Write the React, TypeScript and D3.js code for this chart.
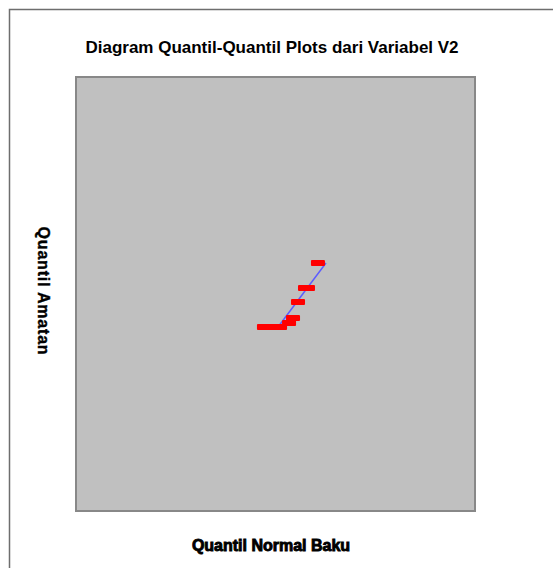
import * as d3 from 'd3';

import React, { useEffect, useRef } from 'react';

const normalQuantiles: number[] = [-1.81, -1.53, -1.25, -0.96, -0.68, -0.05, 0.23, 0.58, 1.07, 1.28, 1.98];
const observedQuantiles: number[] = [-2.28, -2.28, -2.28, -2.28, -2.28, -2.0, -1.66, -0.55, 0.41, 0.41, 2.14];

// reference line end points
const lineX: number[] = [-0.82, 2.54];
const lineY: number[] = [-2.28, 2.14];

const xDomain: number[] = [-15, 13];
const yDomain: number[] = [-15, 15];

const title = 'Diagram Quantil-Quantil Plots dari Variabel V2';
const xLabel = 'Quantil Normal Baku';
const yLabel = 'Quantil Amatan';

const width = 553;
const height = 568;
const margin = { top: 77, right: 78, bottom: 57, left: 76 };

export default function App() {
  const svgRef = useRef(null);

  useEffect(() => {
    const svg = d3.select(svgRef.current).attr('width', width).attr('height', height);
    svg.selectAll('*').remove();

    const xScale = d3
      .scaleLinear()
      .domain(xDomain)
      .range([margin.left, width - margin.right]);

    const yScale = d3
      .scaleLinear()
      .domain(yDomain)
      .range([height - margin.bottom, margin.top]);

    svg.append('rect').attr('width', width).attr('height', height).attr('fill', '#ffffff');

    // outer frame
    svg
      .append('rect')
      .attr('x', 9.5)
      .attr('y', 9.5)
      .attr('width', 700)
      .attr('height', 700)
      .attr('fill', 'none')
      .attr('stroke', '#6e6e6e')
      .attr('stroke-width', 1.5);

    // plot area
    svg
      .append('rect')
      .attr('x', margin.left)
      .attr('y', margin.top)
      .attr('width', width - margin.left - margin.right)
      .attr('height', height - margin.top - margin.bottom)
      .attr('fill', '#c0c0c0')
      .attr('stroke', '#888888')
      .attr('stroke-width', 2);

    const data = normalQuantiles.map((q, i) => ({ x: q, y: observedQuantiles[i] }));

    const line = d3
      .line<number>()
      .x((d) => xScale(d))
      .y((_, i) => yScale(lineY[i]));

    svg
      .append('path')
      .attr('d', line(lineX))
      .attr('fill', 'none')
      .attr('stroke', '#5c5cff')
      .attr('stroke-width', 1.5);

    svg
      .append('g')
      .selectAll('rect')
      .data(data)
      .join('rect')
      .attr('x', (d) => xScale(d.x) - 7)
      .attr('y', (d) => yScale(d.y) - 3)
      .attr('width', 14)
      .attr('height', 6)
      .attr('rx', 1)
      .attr('fill', '#ff0000');

    svg
      .append('text')
      .attr('x', 272)
      .attr('y', 53)
      .attr('text-anchor', 'middle')
      .attr('font-family', 'Liberation Sans, Arial, sans-serif')
      .attr('font-weight', 'bold')
      .attr('font-size', 17)
      .attr('fill', '#000')
      .text(title);

    svg
      .append('text')
      .attr('x', 271)
      .attr('y', 551)
      .attr('text-anchor', 'middle')
      .attr('font-family', 'Liberation Sans, Arial, sans-serif')
      .attr('font-weight', 'bold')
      .attr('font-size', 16)
      .attr('stroke', '#000')
      .attr('stroke-width', 0.9)
      .attr('fill', '#000')
      .text(xLabel);

    svg
      .append('text')
      .attr('transform', 'translate(38, 291) rotate(90)')
      .attr('text-anchor', 'middle')
      .attr('font-family', 'Liberation Sans, Arial, sans-serif')
      .attr('font-weight', 'bold')
      .attr('font-size', 16)
      .attr('letter-spacing', 0.8)
      .attr('stroke', '#000')
      .attr('stroke-width', 0.4)
      .attr('fill', '#000')
      .text(yLabel);
  }, []);

  return <svg ref={svgRef} style={{ position: 'absolute', left: 0, top: 0 }}></svg>;
}
